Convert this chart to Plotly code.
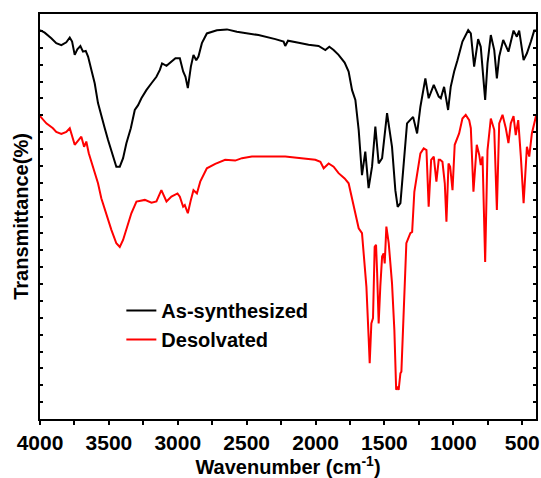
import plotly.graph_objects as go

# Wavenumbers (cm-1) and relative transmittance
as_wn = [4000, 3966, 3918, 3882, 3845, 3809, 3784, 3767, 3748, 3729, 3707, 3688, 3668, 3651, 3627, 3603,
         3579, 3555, 3530, 3506, 3477, 3446, 3421, 3397, 3373, 3341, 3312, 3288, 3264, 3228, 3191, 3155,
         3130, 3114, 3082, 3046, 3017, 2985, 2961, 2944, 2927, 2905, 2886, 2866, 2850, 2825, 2789, 2716,
         2643, 2571, 2414, 2292, 2232, 2220, 2200, 2123, 2051, 1978, 1929, 1900, 1869, 1833, 1789, 1760,
         1735, 1711, 1687, 1663, 1639, 1615, 1590, 1566, 1542, 1517, 1481, 1445, 1421, 1404, 1384, 1360,
         1336, 1292, 1263, 1239, 1203, 1179, 1142, 1106, 1091, 1067, 1038, 1019, 994, 970, 934, 892,
         873, 849, 820, 801, 769, 752, 728, 703, 684, 667, 638, 600, 563, 539, 522, 490, 466, 437, 413, 400]
as_t = [96.0, 95.4, 94.0, 92.8, 92.3, 93.0, 94.2, 93.2, 89.9, 91.3, 92.1, 90.7, 90.9, 89.5, 86.2, 82.9,
        78.0, 74.6, 71.8, 68.9, 65.6, 62.3, 62.3, 64.4, 68.1, 71.8, 76.3, 77.5, 79.2, 81.2, 82.9, 84.5,
        86.2, 87.8, 87.2, 88.2, 89.1, 89.1, 85.8, 84.5, 81.7, 87.0, 89.9, 88.6, 89.5, 92.8, 95.2, 96.0,
        96.2, 95.6, 94.8, 93.8, 93.2, 92.1, 93.4, 92.9, 92.4, 92.1, 91.1, 91.9, 91.1, 89.9, 88.0, 85.8,
        81.2, 78.8, 71.4, 60.2, 66.0, 57.0, 62.3, 72.2, 63.1, 64.4, 75.5, 67.2, 56.5, 52.4, 53.3, 63.1,
        73.0, 74.6, 70.5, 77.1, 84.1, 79.2, 82.5, 79.6, 79.2, 82.0, 76.3, 82.0, 85.8, 88.6, 93.2, 96.0,
        95.2, 87.0, 93.8, 91.9, 78.8, 87.8, 94.8, 91.1, 84.1, 89.5, 93.6, 90.7, 95.9, 94.4, 95.9, 88.6,
        90.3, 93.2, 95.9, 95.9]

de_wn = [4000, 3954, 3906, 3882, 3845, 3809, 3784, 3767, 3748, 3719, 3700, 3680, 3664, 3646, 3615, 3579,
         3555, 3518, 3482, 3446, 3421, 3397, 3366, 3337, 3300, 3239, 3191, 3155, 3119, 3082, 3046, 3002,
         2985, 2961, 2949, 2927, 2905, 2886, 2861, 2837, 2789, 2728, 2656, 2583, 2534, 2462, 2220, 2098,
         2002, 1965, 1941, 1905, 1869, 1833, 1789, 1760, 1735, 1711, 1687, 1663, 1646, 1631, 1615, 1607,
         1595, 1583, 1571, 1561, 1553, 1542, 1530, 1517, 1506, 1498, 1486, 1469, 1445, 1428, 1415, 1404,
         1397, 1384, 1377, 1360, 1341, 1312, 1299, 1283, 1263, 1239, 1215, 1195, 1179, 1161, 1142, 1123,
         1106, 1096, 1079, 1062, 1050, 1035, 1023, 1006, 990, 958, 934, 910, 885, 873, 854, 830,
         812, 801, 788, 769, 752, 728, 703, 684, 667, 643, 619, 600, 583, 563, 547, 529,
         510, 490, 466, 449, 430, 413, 400]
de_t = [74.8, 73.0, 71.8, 70.9, 70.4, 70.9, 71.8, 70.1, 67.7, 68.9, 69.7, 67.2, 68.5, 65.6, 62.3, 58.2,
        54.5, 50.4, 46.7, 43.4, 42.5, 44.2, 47.5, 50.8, 53.7, 54.1, 53.4, 53.7, 56.5, 53.7, 54.9, 55.7,
        54.9, 52.4, 52.8, 50.8, 54.1, 56.5, 55.7, 58.6, 61.9, 63.0, 64.0, 63.8, 64.4, 64.8, 64.8, 64.4,
        64.0, 63.5, 61.9, 63.1, 62.3, 60.7, 59.4, 58.2, 54.1, 50.8, 47.1, 45.9, 37.6, 32.7, 20.3, 13.8,
        23.6, 24.9, 42.5, 43.0, 36.0, 23.6, 32.7, 40.1, 40.9, 38.4, 47.5, 43.4, 33.5, 22.0, 7.2, 8.0,
        7.2, 11.3, 11.7, 26.9, 43.4, 45.9, 46.2, 56.1, 60.7, 65.6, 66.8, 66.4, 52.4, 64.0, 64.8, 58.6,
        64.0, 64.0, 63.5, 58.2, 48.7, 63.1, 62.3, 56.5, 67.7, 70.5, 74.2, 75.1, 73.8, 71.8, 56.1, 67.7,
        65.2, 62.7, 64.8, 38.8, 66.4, 74.2, 71.4, 51.6, 73.0, 75.1, 71.8, 68.1, 73.0, 74.8, 70.1, 73.8,
        64.8, 53.3, 67.2, 64.8, 70.5, 72.6, 74.8]

x_ticks = [4000, 3500, 3000, 2500, 2000, 1500, 1000, 500]

FONT = dict(family="Arial, 'Liberation Sans', sans-serif", color="black", size=20, weight="bold")
TICKFONT = dict(family="Arial, 'Liberation Sans', sans-serif", color="black", size=21, weight="bold")

fig = go.Figure()
fig.add_trace(go.Scatter(x=as_wn, y=as_t, mode="lines", name="As-synthesized",
                         line=dict(color="black", width=2)))
fig.add_trace(go.Scatter(x=de_wn, y=de_t, mode="lines", name="Desolvated",
                         line=dict(color="red", width=2)))

fig.update_layout(
    width=541, height=478,
    margin=dict(l=40, r=5, t=14, b=59),
    paper_bgcolor="white", plot_bgcolor="white",
    font=FONT,
    showlegend=True,
    legend=dict(x=0.164, y=0.316, xanchor="left", yanchor="top",
                bgcolor="rgba(0,0,0,0)", font=FONT, tracegroupgap=0, itemwidth=30),
    xaxis=dict(range=[4000, 400], tickvals=x_ticks, ticks="outside", ticklen=4, tickwidth=1.5,
               tickcolor="black", showline=True, linecolor="black", linewidth=2, mirror=True,
               showgrid=False, zeroline=False, tickfont=TICKFONT,
               minor=dict(dtick=250, tick0=0, ticks="outside", ticklen=4, tickwidth=1.5, tickcolor="black"),
               title=dict(text="Wavenumber (cm<sup>-1</sup>)", font=FONT, standoff=1),
               automargin=False),
    xaxis2=dict(range=[4000, 400], overlaying="x", side="top", tickmode="linear", tick0=0, dtick=250,
                ticks="inside", ticklen=3, tickwidth=1.5, tickcolor="black", showticklabels=False,
                showline=False, showgrid=False, zeroline=False, automargin=False),
    yaxis=dict(range=[0, 100], tickmode="linear", tick0=0, dtick=100/24, ticks="inside", ticklen=3,
               tickwidth=1.5, tickcolor="black", showticklabels=False, showline=True, linecolor="black",
               linewidth=2, mirror="ticks", showgrid=False, zeroline=False,
               title=dict(text="Transmittance(%)", font=FONT, standoff=4), automargin=False),
)

fig.write_html("out.html")
